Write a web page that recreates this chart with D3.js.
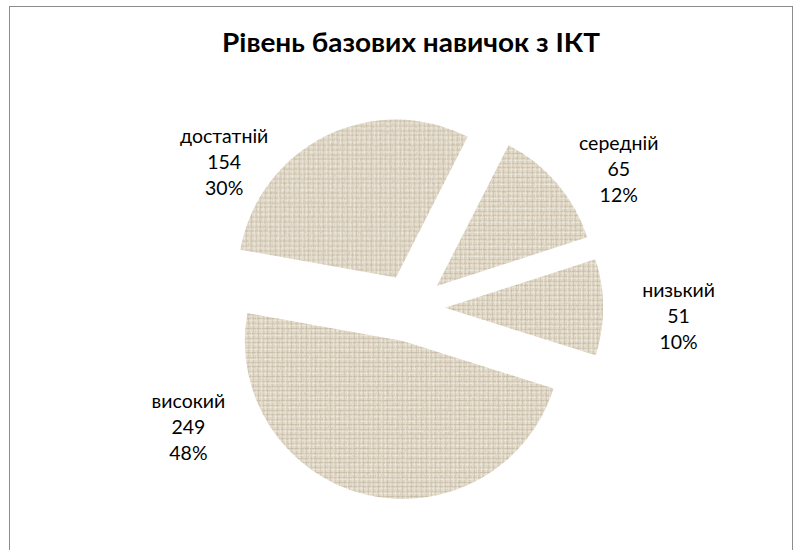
<!DOCTYPE html>
<html>
<head>
<meta charset="utf-8">
<script src="https://cdn.jsdelivr.net/npm/d3@7"></script>
<style>
  html, body { margin: 0; padding: 0; background: #ffffff; }
  svg { display: block; }
</style>
</head>
<body>
<svg id="chart" width="802" height="550"></svg>
<script>
// ICT basic skills level – exploded pie
const title = "Рівень базових навичок з ІКТ";
const categories = ["середній", "низький", "високий", "достатній"];
const counts = [65, 51, 249, 154];
const percentLabels = ["12%", "10%", "48%", "30%"];

// label anchors, polar around the pie centre (degrees clockwise from 12 o'clock, px)
const labelAngles = [57.6, 93.2, 240.4, 306.7];
const labelRadii = [246, 268, 256, 233];

const cx = 411, cy = 308;
const radius = 158;
const explode = 34;
const startDeg = 27;

const svg = d3.select("#chart");

// chart area border (continues below the visible area)
svg.append("rect")
  .attr("x", 9.5).attr("y", 6.5)
  .attr("width", 783).attr("height", 560)
  .attr("fill", "#ffffff")
  .attr("stroke", "#8c8c8c")
  .attr("stroke-width", 1);

// linen texture used as the slice fill
const defs = svg.append("defs");
const tile = 24;
const pat = defs.append("pattern")
  .attr("id", "linen")
  .attr("patternUnits", "userSpaceOnUse")
  .attr("width", tile).attr("height", tile);
pat.append("rect").attr("width", tile).attr("height", tile).attr("fill", "#e2d9c8");
const threadPos = [1, 3, 6, 8, 11, 13, 16, 18, 21, 23];
const threadTone = ["#c3b8a2", "#f1ece2", "#cdc3ae", "#f4f0e8", "#bfb49d",
                    "#eee8dc", "#cac0aa", "#f2eee5", "#c6bba5", "#ebe5d8"];
threadPos.forEach((p, i) => {
  pat.append("rect").attr("x", 0).attr("y", p).attr("width", tile).attr("height", 1)
    .attr("fill", threadTone[i]).attr("opacity", 0.6);
  pat.append("rect").attr("x", (p + 5) % tile).attr("y", 0).attr("width", 1).attr("height", tile)
    .attr("fill", threadTone[(i + 3) % threadTone.length]).attr("opacity", 0.55);
});

const grain = defs.append("filter").attr("id", "grain")
  .attr("x", "-5%").attr("y", "-5%").attr("width", "110%").attr("height", "110%");
grain.append("feTurbulence").attr("type", "fractalNoise")
  .attr("baseFrequency", "0.9 0.35").attr("numOctaves", 2).attr("seed", 4).attr("result", "noise");
grain.append("feColorMatrix").attr("in", "noise").attr("type", "matrix")
  .attr("values", "0 0 0 0 0.5  0 0 0 0 0.45  0 0 0 0 0.36  0 0 0 -1.1 0.6")
  .attr("result", "tint");
grain.append("feComposite").attr("in", "tint").attr("in2", "SourceGraphic")
  .attr("operator", "in").attr("result", "tinted");
grain.append("feMerge").selectAll("feMergeNode")
  .data(["SourceGraphic", "tinted"]).join("feMergeNode").attr("in", d => d);

// title
svg.append("text")
  .attr("x", cx).attr("y", 52)
  .attr("text-anchor", "middle")
  .attr("font-family", "Lato, 'Open Sans', sans-serif")
  .attr("font-weight", "bold")
  .attr("font-size", 26)
  .attr("fill", "#000")
  .attr("textLength", 378)
  .attr("lengthAdjust", "spacingAndGlyphs")
  .text(title);

const data = categories.map((c, i) => ({ category: c, count: counts[i], pct: percentLabels[i] }));

const pie = d3.pie()
  .sort(null)
  .value(d => d.count)
  .startAngle(startDeg * Math.PI / 180)
  .endAngle(startDeg * Math.PI / 180 + 2 * Math.PI);

const arc = d3.arc().innerRadius(0).outerRadius(radius);
const arcs = pie(data);

const g = svg.append("g").attr("transform", `translate(${cx},${cy})`);

g.selectAll("path.slice")
  .data(arcs)
  .join("path")
  .attr("class", "slice")
  .attr("transform", d => {
    const [dx, dy] = d3.pointRadial((d.startAngle + d.endAngle) / 2, explode);
    return `translate(${dx},${dy})`;
  })
  .attr("d", arc)
  .attr("fill", "url(#linen)")
  .attr("filter", "url(#grain)");

// data labels: category, count, percent
const labels = g.selectAll("text.lbl")
  .data(arcs)
  .join("text")
  .attr("class", "lbl")
  .attr("text-anchor", "middle")
  .attr("font-family", "Lato, 'Open Sans', sans-serif")
  .attr("font-size", 19.5)
  .attr("fill", "#000")
  .attr("transform", (d, i) => {
    const [x, y] = d3.pointRadial(labelAngles[i] * Math.PI / 180, labelRadii[i]);
    return `translate(${x},${y})`;
  });

labels.each(function(d) {
  const t = d3.select(this);
  t.append("tspan").attr("x", 0).attr("y", -26).text(d.data.category);
  t.append("tspan").attr("x", 0).attr("y", 0).text(d.data.count);
  t.append("tspan").attr("x", 0).attr("y", 26).text(d.data.pct);
});
</script>
</body>
</html>
